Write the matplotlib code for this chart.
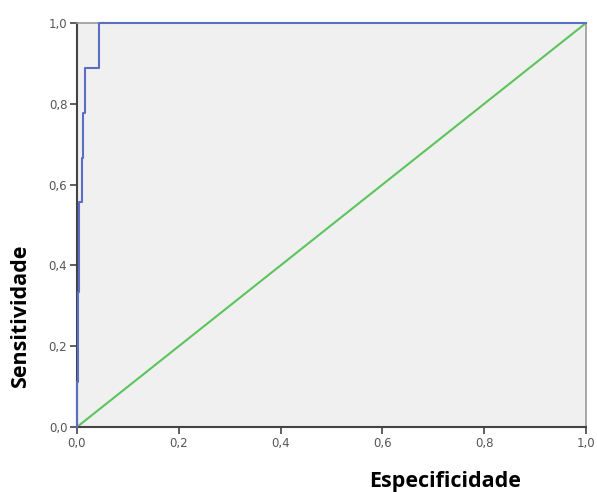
"""ROC curve: sensitivity vs 1 - specificity, SPSS style."""

import matplotlib

matplotlib.use("Agg")

import matplotlib.pyplot as plt
from matplotlib.ticker import FuncFormatter

# ROC points (steps of 1/9 in sensitivity)
fpr = [0.0, 0.0, 0.0025, 0.0045, 0.009, 0.012, 0.016, 0.043, 1.0]
tpr = [0.0, 0.111, 0.333, 0.556, 0.667, 0.778, 0.889, 1.0, 1.0]
ref_x = [0.0, 1.0]
ref_y = [0.0, 1.0]
ticks = [0.0, 0.2, 0.4, 0.6, 0.8, 1.0]

fig = plt.figure(figsize=(5.97, 4.92), dpi=100)
ax = fig.add_axes([77 / 597, 1 - 427 / 492, 509 / 597, 404 / 492])
ax.set_facecolor("#f0f0f0")

ax.plot(ref_x, ref_y, color="#5cc45c", lw=1.5, zorder=2)
ax.plot(fpr, tpr, drawstyle="steps-post", color="#5a6ec6", lw=1.5, zorder=3,
        clip_on=False)

ax.set_xlim(0, 1)
ax.set_ylim(0, 1)
ax.set_xticks(ticks)
ax.set_yticks(ticks)
fmt = FuncFormatter(lambda v, _: f"{v:.1f}".replace(".", ","))
ax.xaxis.set_major_formatter(fmt)
ax.yaxis.set_major_formatter(fmt)
ax.tick_params(direction="out", length=5, width=1.2, color="#444444",
               labelsize=8.5, labelcolor="#555555", pad=2)

for side in ("left", "bottom"):
    ax.spines[side].set_color("#444444")
    ax.spines[side].set_linewidth(1.5)
for side in ("top", "right"):
    ax.spines[side].set_color("#999999")
    ax.spines[side].set_linewidth(1.2)

fig.text(445 / 597, 1 - 481 / 492, "Especificidade", ha="center", va="center",
         fontsize=15.5, fontweight="bold", family="Open Sans")
fig.text(21 / 597, 1 - 316 / 492, "Sensitividade", ha="center", va="center",
         rotation=90, fontsize=15.5, fontweight="bold", family="Open Sans")

fig.savefig("out.png", dpi=100)
